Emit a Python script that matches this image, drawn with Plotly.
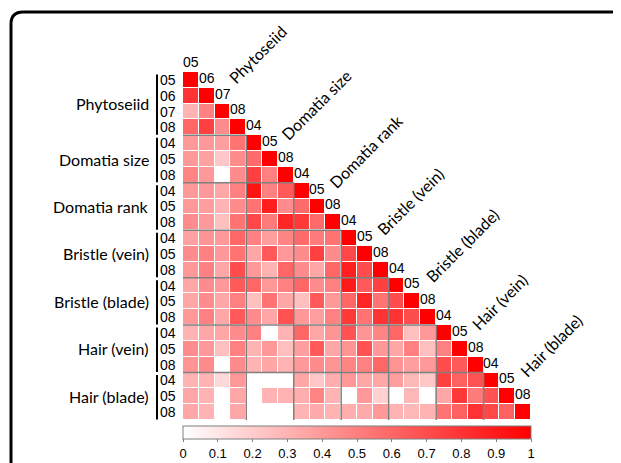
import numpy as np
import plotly.graph_objects as go

# ---------------- data ----------------
groups = ["Phytoseiid", "Domatia size", "Domatia rank", "Bristle (vein)",
          "Bristle (blade)", "Hair (vein)", "Hair (blade)"]
group_codes = [["05", "06", "07", "08"],
               ["04", "05", "08"],
               ["04", "05", "08"],
               ["04", "05", "08"],
               ["04", "05", "08"],
               ["04", "05", "08"],
               ["04", "05", "08"]]

# lower triangle of the correlation matrix, row by row (diagonal included)
corr_rows = [
    [1],
    [0.80, 1],
    [0.30, 0.50, 1],
    [0.60, 0.75, 0.45, 1],
    [0.40, 0.40, 0.38, 0.55, 1],
    [0.40, 0.37, 0.22, 0.45, 0.58, 1],
    [0.48, 0.40, 0.00, 0.45, 0.75, 0.50, 1],
    [0.40, 0.40, 0.35, 0.50, 0.92, 0.50, 0.65, 1],
    [0.40, 0.38, 0.30, 0.45, 0.55, 0.88, 0.45, 0.58, 1],
    [0.45, 0.40, 0.25, 0.55, 0.72, 0.52, 0.85, 0.78, 0.58, 1],
    [0.37, 0.42, 0.40, 0.60, 0.50, 0.38, 0.48, 0.58, 0.52, 0.55, 1],
    [0.45, 0.50, 0.40, 0.55, 0.35, 0.65, 0.40, 0.45, 0.75, 0.45, 0.72, 1],
    [0.40, 0.50, 0.35, 0.70, 0.40, 0.30, 0.60, 0.45, 0.35, 0.60, 0.88, 0.70, 1],
    [0.35, 0.45, 0.40, 0.65, 0.60, 0.40, 0.50, 0.60, 0.45, 0.50, 0.90, 0.65, 0.75, 1],
    [0.35, 0.45, 0.35, 0.50, 0.25, 0.55, 0.35, 0.25, 0.65, 0.40, 0.60, 0.85, 0.55, 0.70, 1],
    [0.40, 0.50, 0.35, 0.65, 0.45, 0.35, 0.68, 0.40, 0.38, 0.50, 0.78, 0.55, 0.80, 0.80, 0.70, 1],
    [0.30, 0.35, 0.35, 0.45, 0.50, 0.00, 0.30, 0.60, 0.35, 0.42, 0.68, 0.42, 0.48, 0.60, 0.25, 0.40, 1],
    [0.45, 0.40, 0.25, 0.50, 0.30, 0.40, 0.25, 0.38, 0.65, 0.35, 0.42, 0.68, 0.40, 0.35, 0.50, 0.25, 0.50, 1],
    [0.42, 0.45, 0.00, 0.45, 0.30, 0.35, 0.30, 0.40, 0.45, 0.42, 0.48, 0.50, 0.60, 0.42, 0.38, 0.40, 0.70, 0.65, 1],
    [0.30, 0.30, 0.15, 0.40, 0.00, 0.00, 0.00, 0.35, 0.22, 0.32, 0.40, 0.35, 0.35, 0.38, 0.28, 0.22, 0.75, 0.62, 0.68, 1],
    [0.35, 0.30, 0.00, 0.35, 0.00, 0.30, 0.30, 0.32, 0.48, 0.30, 0.00, 0.40, 0.18, 0.00, 0.28, 0.00, 0.35, 0.78, 0.52, 0.68, 1],
    [0.35, 0.30, 0.00, 0.35, 0.00, 0.00, 0.00, 0.30, 0.33, 0.30, 0.32, 0.33, 0.40, 0.30, 0.28, 0.30, 0.55, 0.62, 0.80, 0.72, 0.62, 1],
]

cbar_tickvals = [0, 0.1, 0.2, 0.3, 0.4, 0.5, 0.6, 0.7, 0.8, 0.9, 1]
cbar_ticktext = ["0", "0.1", "0.2", "0.3", "0.4", "0.5", "0.6", "0.7", "0.8", "0.9", "1"]

# ---------------- build ----------------
codes = [c for g in group_codes for c in g]
n = len(codes)
z = np.full((n, n), np.nan)
for i, row in enumerate(corr_rows):
    for j, v in enumerate(row):
        z[i, j] = v

# page body margin offset (px)
OFF = 8
# plot area in window pixels
PL, PT, PW, PH = 183, 72, 348, 348
W, H = 621 - OFF, 463 - OFF
L, T = PL - OFF, PT - OFF
R = W - L - PW
B = H - T - PH
cell = PW / n


def xp(px):
    return (px - PL) / PW


def yp(py):
    return (PT + PH - py) / PH


fig = go.Figure()
fig.add_trace(go.Heatmap(
    z=z, x=list(range(n)), y=list(range(n)),
    zmin=0, zmax=1,
    colorscale=[[0, "#ffffff"], [1, "#ff0000"]],
    xgap=1, ygap=1, hoverinfo="skip",
    colorbar=dict(
        orientation="h", thickness=13, thicknessmode="pixels",
        len=PW, lenmode="pixels", x=0, xanchor="left",
        y=yp(426), yanchor="top", xpad=0, ypad=0,
        outlinewidth=1, outlinecolor="#7f7f7f",
        ticks="outside", ticklen=3, tickcolor="#7f7f7f", tickwidth=1,
        tickvals=cbar_tickvals, ticktext=cbar_ticktext,
        tickfont=dict(family="Liberation Sans", size=13, color="black"),
    ),
))

shapes = []
annotations = []

# group separator lines (L shapes)
starts = []
s = 0
for g in group_codes:
    starts.append(s)
    s += len(g)
for b in starts[1:]:
    shapes.append(dict(type="line", xref="x", yref="y", x0=-0.5, x1=b - 0.5,
                       y0=b - 0.5, y1=b - 0.5, line=dict(color="#808080", width=1.5)))
    shapes.append(dict(type="line", xref="x", yref="y", x0=b - 0.5, x1=b - 0.5,
                       y0=b - 0.5, y1=n - 0.5, line=dict(color="#808080", width=1.5)))

# brackets, row labels, group names
for gi, g in enumerate(group_codes):
    s0 = starts[gi]
    s1 = s0 + len(g) - 1
    ytop = PT + s0 * cell + 2.5
    ybot = PT + (s1 + 1) * cell - 0.5
    shapes.append(dict(type="line", xref="paper", yref="paper",
                       x0=xp(157), x1=xp(157), y0=yp(ytop), y1=yp(ybot),
                       line=dict(color="black", width=2)))
    ymid = PT + (s0 + s1 + 1) / 2 * cell
    annotations.append(dict(x=xp(151), y=yp(ymid), xref="paper", yref="paper",
                            text=groups[gi], showarrow=False, xanchor="right",
                            yanchor="middle",
                            font=dict(family="Lato", size=16, color="black")))
    for k in range(s0, s1 + 1):
        annotations.append(dict(x=xp(159), y=yp(PT + (k + 0.5) * cell),
                                xref="paper", yref="paper",
                                text=codes[k], showarrow=False, xanchor="left",
                                yanchor="middle", borderpad=0,
                                font=dict(family="Liberation Sans", size=14, color="black")))

# diagonal code labels
for k in range(n):
    annotations.append(dict(x=xp(PL + (k + 0.5) * cell), y=yp(PT + k * cell),
                            xref="paper", yref="paper", text=codes[k],
                            showarrow=False, xanchor="center", yanchor="bottom",
                            font=dict(family="Liberation Sans", size=14, color="black")))

# rotated group names along the diagonal (bottom-left corners, pixels)
diag_pos = [(222, 90), (275, 146), (323, 194), (370, 241), (419, 289), (465, 336), (513, 383)]
for gi, (px, py) in enumerate(diag_pos):
    annotations.append(dict(x=xp(px), y=yp(py), xref="paper", yref="paper",
                            text=groups[gi], showarrow=False, textangle=-45,
                            xanchor="left", yanchor="bottom",
                            font=dict(family="Lato", size=16, color="black")))

# rounded frame (only top-left corner visible)
xl = xp(11)
yt = yp(12)
rx = 12 / PW
ry = 12 / PH
path = (f"M {xl},{yp(500)} L {xl},{yt - ry} "
        f"Q {xl},{yt} {xl + rx},{yt} L {xp(660)},{yt}")
shapes.append(dict(type="path", xref="paper", yref="paper", path=path,
                   line=dict(color="black", width=3)))

fig.update_layout(
    width=W, height=H,
    margin=dict(l=L, r=R, t=T, b=B, pad=0, autoexpand=False),
    paper_bgcolor="white", plot_bgcolor="white",
    xaxis=dict(range=[-0.5, n - 0.5], visible=False, fixedrange=True),
    yaxis=dict(range=[n - 0.5, -0.5], visible=False, fixedrange=True),
    shapes=shapes, annotations=annotations,
    showlegend=False,
)

fig.write_html("out.html")
